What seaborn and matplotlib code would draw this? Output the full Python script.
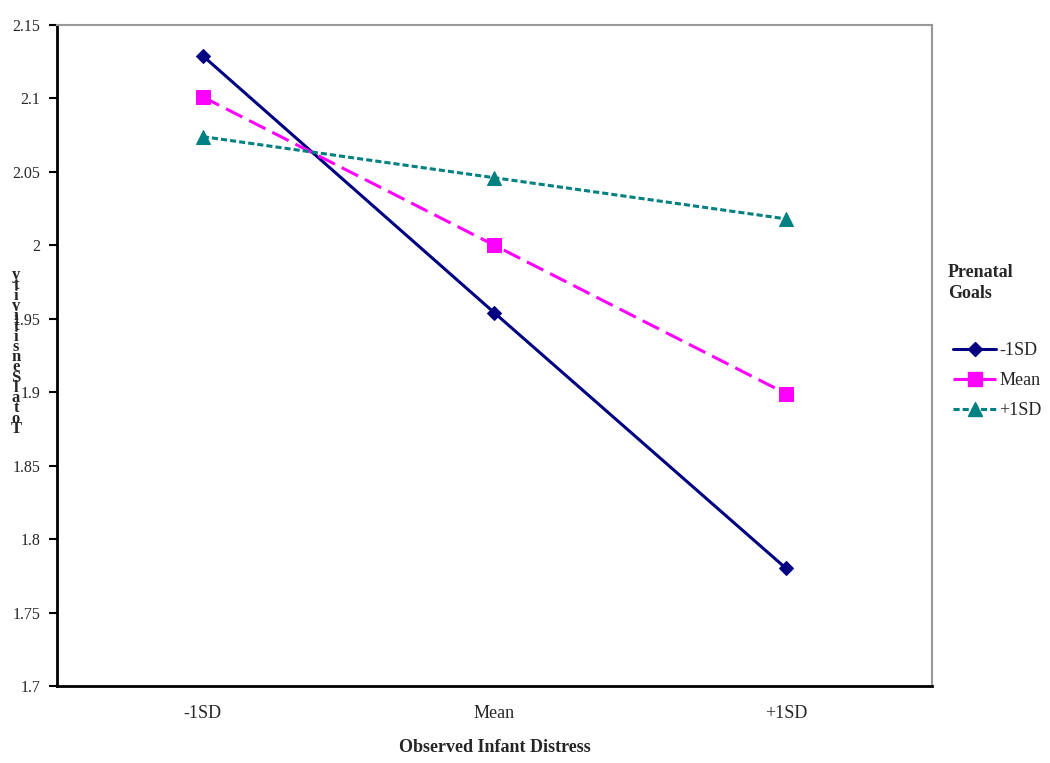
import matplotlib
matplotlib.use("Agg")
import matplotlib.pyplot as plt
import seaborn as sns
import pandas as pd
from matplotlib.lines import Line2D

categories = ["-1SD", "Mean", "+1SD"]
series_names = ["-1SD", "Mean", "+1SD"]
vals_low = [2.129, 1.954, 1.780]
vals_mean = [2.101, 2.000, 1.899]
vals_high = [2.074, 2.046, 2.018]
y_ticks = [1.7, 1.75, 1.8, 1.85, 1.9, 1.95, 2.0, 2.05, 2.1, 2.15]
y_tick_labels = ["1.7", "1.75", "1.8", "1.85", "1.9", "1.95", "2", "2.05", "2.1", "2.15"]

sns.set_style("white")
plt.rcParams["font.family"] = ["Liberation Serif", "DejaVu Serif"]

fig = plt.figure(figsize=(10.5, 7.63), dpi=100)
ax = fig.add_axes([57/1050, 1 - 686/763, (932-57)/1050, (686-25)/763])

rows = []
for name, vals in zip(series_names, [vals_low, vals_mean, vals_high]):
    for i, v in enumerate(vals):
        rows.append({"x": i, "cat": categories[i], "y": v, "series": name})
df = pd.DataFrame(rows)

colors = {"-1SD": "#000080", "Mean": "#FF00FF", "+1SD": "#008080"}
markers = {"-1SD": "D", "Mean": "s", "+1SD": "^"}
msizes = {"-1SD": 7, "Mean": 10, "+1SD": 10}
dashes = {"-1SD": "", "Mean": (6, 2.5), "+1SD": (2, 1)}

handles = []
for name in series_names:
    sub = df[df["series"] == name]
    sns.lineplot(data=sub, x="x", y="y", ax=ax, color=colors[name],
                 marker=markers[name], markersize=msizes[name],
                 markeredgecolor=colors[name], linewidth=2.2,
                 dashes=False, legend=False)
    line = ax.lines[-1]
    if dashes[name]:
        line.set_dashes(dashes[name])
    h = Line2D([], [], color=colors[name], marker=markers[name],
               markersize=msizes[name], linewidth=2.2)
    if dashes[name]:
        h.set_dashes(dashes[name])
    handles.append(h)

ax.set_xlim(-0.5, 2.5)
ax.set_ylim(1.7, 2.15)
ax.set_yticks(y_ticks)
ax.set_yticklabels(y_tick_labels, fontsize=11.5)
ax.set_xticks([0, 1, 2])
ax.set_xticklabels(categories, fontsize=13)
ax.set_xticks([-0.5, 0.5, 1.5, 2.5], minor=True)
ax.tick_params(axis="x", which="major", length=0, pad=14)
ax.tick_params(axis="x", which="minor", length=6, width=1.5, direction="out", color="black")
ax.tick_params(axis="y", which="major", length=6, width=1.5, direction="out", color="black", pad=6, left=True)

for s in ["left", "bottom"]:
    ax.spines[s].set_color("black")
    ax.spines[s].set_linewidth(2)
for s in ["top", "right"]:
    ax.spines[s].set_color("#999999")
    ax.spines[s].set_linewidth(1.5)

ax.set_xlabel("Observed Infant Distress", fontsize=13, fontweight="bold", labelpad=12)
ax.set_ylabel("")

label_text = "Total Sensitivity"
stacked = "\n".join(list(label_text[::-1].replace(" ", "")))
fig.text(16/1050, 1 - 352/763, stacked, fontsize=12, fontweight="bold",
         ha="center", va="center", linespacing=0.52)

# legend title drawn as text, entries as a frameless legend
fig.text(948/1050, 1 - 283/763, "Prenatal\nGoals", fontsize=13, fontweight="bold",
         ha="left", va="center", linespacing=1.3, multialignment="left")
leg = fig.legend(handles, series_names,
                 loc="upper left", bbox_to_anchor=(953/1050, 1 - 342/763),
                 frameon=False, fontsize=13, handlelength=2.4,
                 handletextpad=0.15, labelspacing=0.72, borderaxespad=0,
                 borderpad=0)

fig.savefig("out.png", dpi=100)
